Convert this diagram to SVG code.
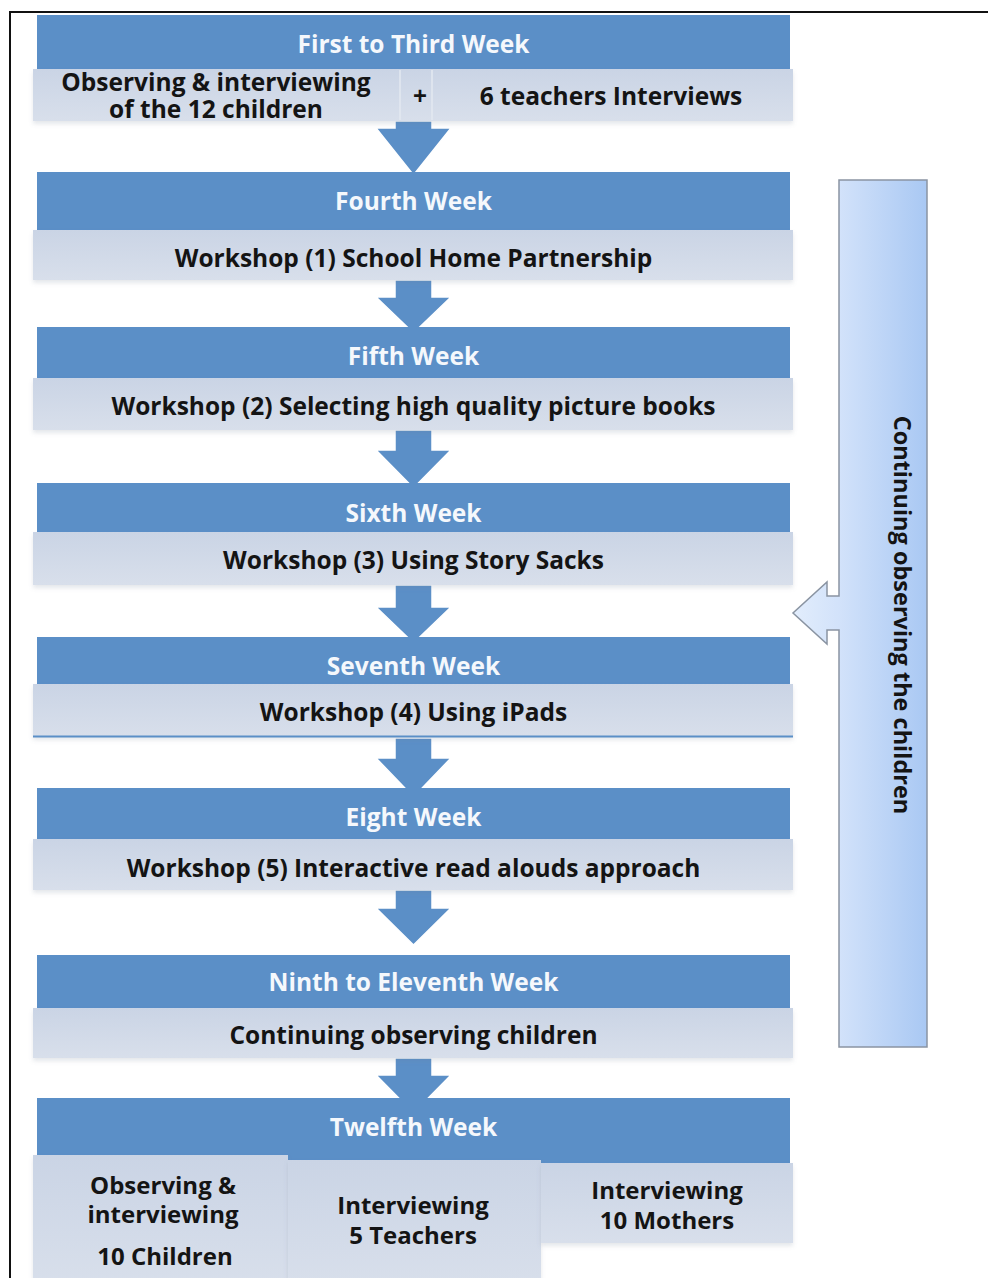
<svg xmlns="http://www.w3.org/2000/svg" width="988" height="1278" viewBox="0 0 988 1278">
  <defs>
    <linearGradient id="barFill" x1="0" y1="0" x2="0" y2="1">
      <stop offset="0" stop-color="#cad4e5"/>
      <stop offset="1" stop-color="#d8dfeb"/>
    </linearGradient>
    <linearGradient id="sideFill" x1="0" y1="0" x2="1" y2="0">
      <stop offset="0" stop-color="#e2edfc"/>
      <stop offset="0.35" stop-color="#d2e2fa"/>
      <stop offset="1" stop-color="#a9c8f3"/>
    </linearGradient>
    <filter id="soft" x="-5%" y="-20%" width="110%" height="150%">
      <feDropShadow dx="0" dy="3" stdDeviation="2" flood-color="#6b7890" flood-opacity="0.18"/>
    </filter>
  </defs>
  <style>
    .head { fill: #5b8fc7; }
    .bar { fill: url(#barFill); filter: url(#soft); }
    .arrow { fill: #5b8fc7; stroke: #ffffff; stroke-width: 1.5; stroke-linejoin: miter; }
    .ht { font-family: "Open Sans", "Liberation Sans", sans-serif; font-weight: 700; font-size: 24.5px; fill: #f5f8fc; text-anchor: middle; }
    .bt { font-family: "Open Sans", "Liberation Sans", sans-serif; font-weight: 700; font-size: 24.5px; fill: #141414; text-anchor: middle; }
    .sm { font-size: 24px; }
    .side { font-size: 23.5px; }
    .sep { stroke: #e3e8f1; stroke-width: 1.5; }
  </style>

  <rect width="988" height="1278" fill="#ffffff"/>
  <!-- page frame -->
  <path d="M10,1282 V12 H992" fill="none" stroke="#111111" stroke-width="2"/>

  <!-- down arrows between stages -->
  <g id="connectors">
    <path class="arrow" d="M395,121 H432 V128 H451 L413.5,175 L376,128 H395 Z"/>
    <path class="arrow" d="M395,280 H432 V297 H451 L413.5,333 L376,297 H395 Z"/>
    <path class="arrow" d="M395,430 H432 V450 H451 L413.5,488 L376,450 H395 Z"/>
    <path class="arrow" d="M395,585 H432 V607 H451 L413.5,643 L376,607 H395 Z"/>
    <path class="arrow" d="M395,738 H432 V758 H451 L413.5,797 L376,758 H395 Z"/>
    <path class="arrow" d="M395,890 H432 V908 H451 L413.5,945 L376,908 H395 Z"/>
    <path class="arrow" d="M395,1058 H432 V1075 H451 L413.5,1113 L376,1075 H395 Z"/>
  </g>

  <g id="week1to3">
    <rect class="head" x="37" y="15" width="753" height="54"/>
    <text class="ht" x="413.5" y="53">First to Third Week</text>
    <rect class="bar" x="33" y="69" width="760" height="52"/>
    <line class="sep" x1="400" y1="70" x2="400" y2="120"/>
    <line class="sep" x1="432" y1="70" x2="432" y2="120"/>
    <text class="bt" x="216" y="91">Observing &amp; interviewing<tspan x="216" dy="27">of the 12 children</tspan></text>
    <text class="bt" x="420" y="105">+</text>
    <text class="bt" x="611" y="105">6 teachers Interviews</text>
  </g>

  <g id="week4">
    <rect class="head" x="37" y="172" width="753" height="58"/>
    <text class="ht" x="413.5" y="210">Fourth Week</text>
    <rect class="bar" x="33" y="230" width="760" height="50"/>
    <text class="bt" x="413.5" y="267">Workshop (1) School Home Partnership</text>
  </g>

  <g id="week5">
    <rect class="head" x="37" y="327" width="753" height="51"/>
    <text class="ht" x="413.5" y="365">Fifth Week</text>
    <rect class="bar" x="33" y="378" width="760" height="52"/>
    <text class="bt" x="413.5" y="415">Workshop (2) Selecting high quality picture books</text>
  </g>

  <g id="week6">
    <rect class="head" x="37" y="483" width="753" height="49"/>
    <text class="ht" x="413.5" y="522">Sixth Week</text>
    <rect class="bar" x="33" y="532" width="760" height="53"/>
    <text class="bt" x="413.5" y="569">Workshop (3) Using Story Sacks</text>
  </g>

  <g id="week7">
    <rect class="head" x="37" y="637" width="753" height="47"/>
    <text class="ht" x="413.5" y="675">Seventh Week</text>
    <rect class="bar" x="33" y="684" width="760" height="53"/>
    <line x1="33" y1="736.5" x2="793" y2="736.5" stroke="#5b8fc7" stroke-width="2"/>
    <text class="bt" x="413.5" y="721">Workshop (4) Using iPads</text>
  </g>

  <g id="week8">
    <rect class="head" x="37" y="788" width="753" height="51"/>
    <text class="ht" x="413.5" y="826">Eight Week</text>
    <rect class="bar" x="33" y="839" width="760" height="51"/>
    <text class="bt" x="413.5" y="877">Workshop (5) Interactive read alouds approach</text>
  </g>

  <g id="week9to11">
    <rect class="head" x="37" y="955" width="753" height="53"/>
    <text class="ht" x="413.5" y="991">Ninth to Eleventh Week</text>
    <rect class="bar" x="33" y="1008" width="760" height="50"/>
    <text class="bt" x="413.5" y="1044">Continuing observing children</text>
  </g>

  <g id="week12">
    <rect class="head" x="37" y="1098" width="753" height="65"/>
    <text class="ht" x="413.5" y="1136">Twelfth Week</text>
    <rect class="bar" x="33" y="1155" width="255" height="130"/>
    <rect class="bar" x="288" y="1160" width="253" height="125"/>
    <rect class="bar" x="541" y="1163" width="252" height="80"/>
    <text class="bt sm" x="163" y="1194">Observing &amp;<tspan x="163" dy="29">interviewing</tspan><tspan x="165" dy="42">10 Children</tspan></text>
    <text class="bt sm" x="413" y="1214">Interviewing<tspan x="413" dy="30">5 Teachers</tspan></text>
    <text class="bt sm" x="667" y="1199">Interviewing<tspan x="667" dy="30">10 Mothers</tspan></text>
  </g>

  <!-- side callout pointing back at the weekly column -->
  <g id="continuing-observation">
    <path d="M839,180 H927 V1047 H839 V630 H827 V644 L793,613 L827,582 V596 H839 Z" fill="url(#sideFill)" stroke="#8a94a2" stroke-width="1.5"/>
    <text class="bt side" transform="translate(894,615) rotate(90)" x="0" y="0">Continuing observing the children</text>
  </g>
</svg>
